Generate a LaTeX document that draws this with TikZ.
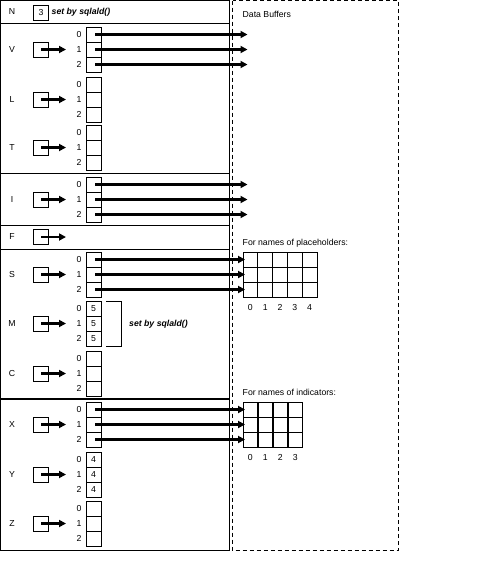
\documentclass[tikz,border=0pt]{standalone}
\usepackage{fontspec}
\setmainfont{Liberation Sans}
\usetikzlibrary{arrows.meta}
\tikzset{
  thinline/.style={line width=0.9pt},
  lbl/.style={inner sep=0pt, font=\fontsize{8.7}{10}\selectfont},
  idx/.style={inner sep=0pt, font=\fontsize{8.7}{10}\selectfont},
  txt/.style={inner sep=0pt, anchor=west, font=\fontsize{8.7}{10}\selectfont},
  note/.style={inner sep=0pt, anchor=west, font=\fontsize{8.7}{10}\selectfont\bfseries\itshape},
  cell/.style={draw, line width=0.9pt, minimum width=15pt, minimum height=15pt, inner sep=0pt, font=\fontsize{8.7}{10}\selectfont},
  gcell/.style={draw, line width=0.9pt, minimum width=14.8pt, minimum height=15pt, inner sep=0pt},
  ptrbox/.style={draw, line width=0.9pt, minimum width=14.5pt, minimum height=15pt, inner sep=0pt, font=\fontsize{8.7}{10}\selectfont},
  arr/.style={line width=2.2pt, -{Triangle[length=7pt,width=7pt]}},
  dashbox/.style={line width=0.9pt, dash pattern=on 4pt off 3pt},
}
\newcommand\grp[3]{%
  \node[lbl] (#1-lab) at (12,{#2+22.5}) {#1};
  \node[ptrbox] (#1-p) at (41,{#2+22.5}) {};
  \coordinate (#1-pe) at (66,{#2+22.5});
  \draw[arr] (#1-p.center) -- (#1-pe);
  \foreach \k in {0,1,2}{%
    \node[cell] (#1-\k) at (93.5,{#2+7.5+15*\k}) {#3};
    \node[idx] (#1-i\k) at (79,{#2+7.5+15*\k}) {\k};
  }%
}
\begin{document}
\begin{tikzpicture}[x=1pt,y=-1pt]
\useasboundingbox (0,0) rectangle (496,566);
% outer box and separators
\draw[thinline] (0.5,0.5) rectangle (229,550.5);
\draw[thinline] (0.5,23) -- (229,23);
\draw[thinline] (0.5,173.5) -- (229,173.5);
\draw[thinline] (0.5,225) -- (229,225);
\draw[thinline] (0.5,249) -- (229,249);
\draw[line width=2pt] (0.5,399) -- (229,399);
% data buffer area
\draw[dashbox] (232.5,0.5) rectangle (398,550.5);
\node[txt] (db) at (242.5,14) {Data Buffers};
% N row
\node[lbl] (N-lab) at (12,12) {N};
\node[ptrbox] (N-box) at (41,12.5) {3};
\node[note] (N-note) at (51.5,12) {set by sqlald()};
% groups
\grp{V}{27}{}
\grp{L}{77}{}
\grp{T}{125}{}
\grp{I}{177}{}
\grp{S}{252}{}
\grp{M}{301}{5}
\grp{C}{351}{}
\grp{X}{402}{}
\grp{Y}{452}{4}
\grp{Z}{501}{}
% F row
\node[lbl] (F-lab) at (12,237) {F};
\node[ptrbox] (F-p) at (41,237) {};
\coordinate (F-pe) at (66,237);
\draw[arr] (F-p.center) -- (F-pe);
% bracket for M
\draw[thinline] (106,301.5) -- (121,301.5) -- (121,346) -- (106,346);
\node[note] (M-note) at (129,324) {set by sqlald()};
% arrows to data buffers
\foreach \g/\t in {V/27,I/177}{
  \foreach \k in {0,1,2}{
    \coordinate (\g-t\k) at (247.5,{\t+7.5+15*\k});
    \draw[arr] ([xshift=1.5pt]\g-\k.center) -- (\g-t\k);
  }
}
% placeholders grid
\node[txt] (ph) at (242.5,243) {For names of placeholders:};
\foreach \r in {0,1,2}{
  \foreach \c in {0,...,4}{
    \node[gcell] (P-\r-\c) at ({250.4+14.8*\c},{259.5+15*\r}) {};
  }
}
\foreach \c in {0,...,4}{
  \node[idx] (P-l\c) at ({250.4+14.8*\c},307.5) {\c};
}
\foreach \k in {0,1,2}{
  \draw[arr, shorten >=-2.5pt] ([xshift=1.5pt]S-\k.center) -- (P-\k-0.west);
}
% indicators grid
\node[txt] (in) at (242.5,392) {For names of indicators:};
\foreach \r in {0,1,2}{
  \foreach \c in {0,...,3}{
    \node[gcell] (Q-\r-\c) at ({250.4+15*\c},{409.5+15*\r}) {};
  }
}
\foreach \c in {0,...,3}{
  \node[idx] (Q-l\c) at ({250.4+15*\c},457.5) {\c};
}
\foreach \k in {0,1,2}{
  \draw[arr, shorten >=-2.5pt] ([xshift=1.5pt]X-\k.center) -- (Q-\k-0.west);
}
\end{tikzpicture}
\end{document}
